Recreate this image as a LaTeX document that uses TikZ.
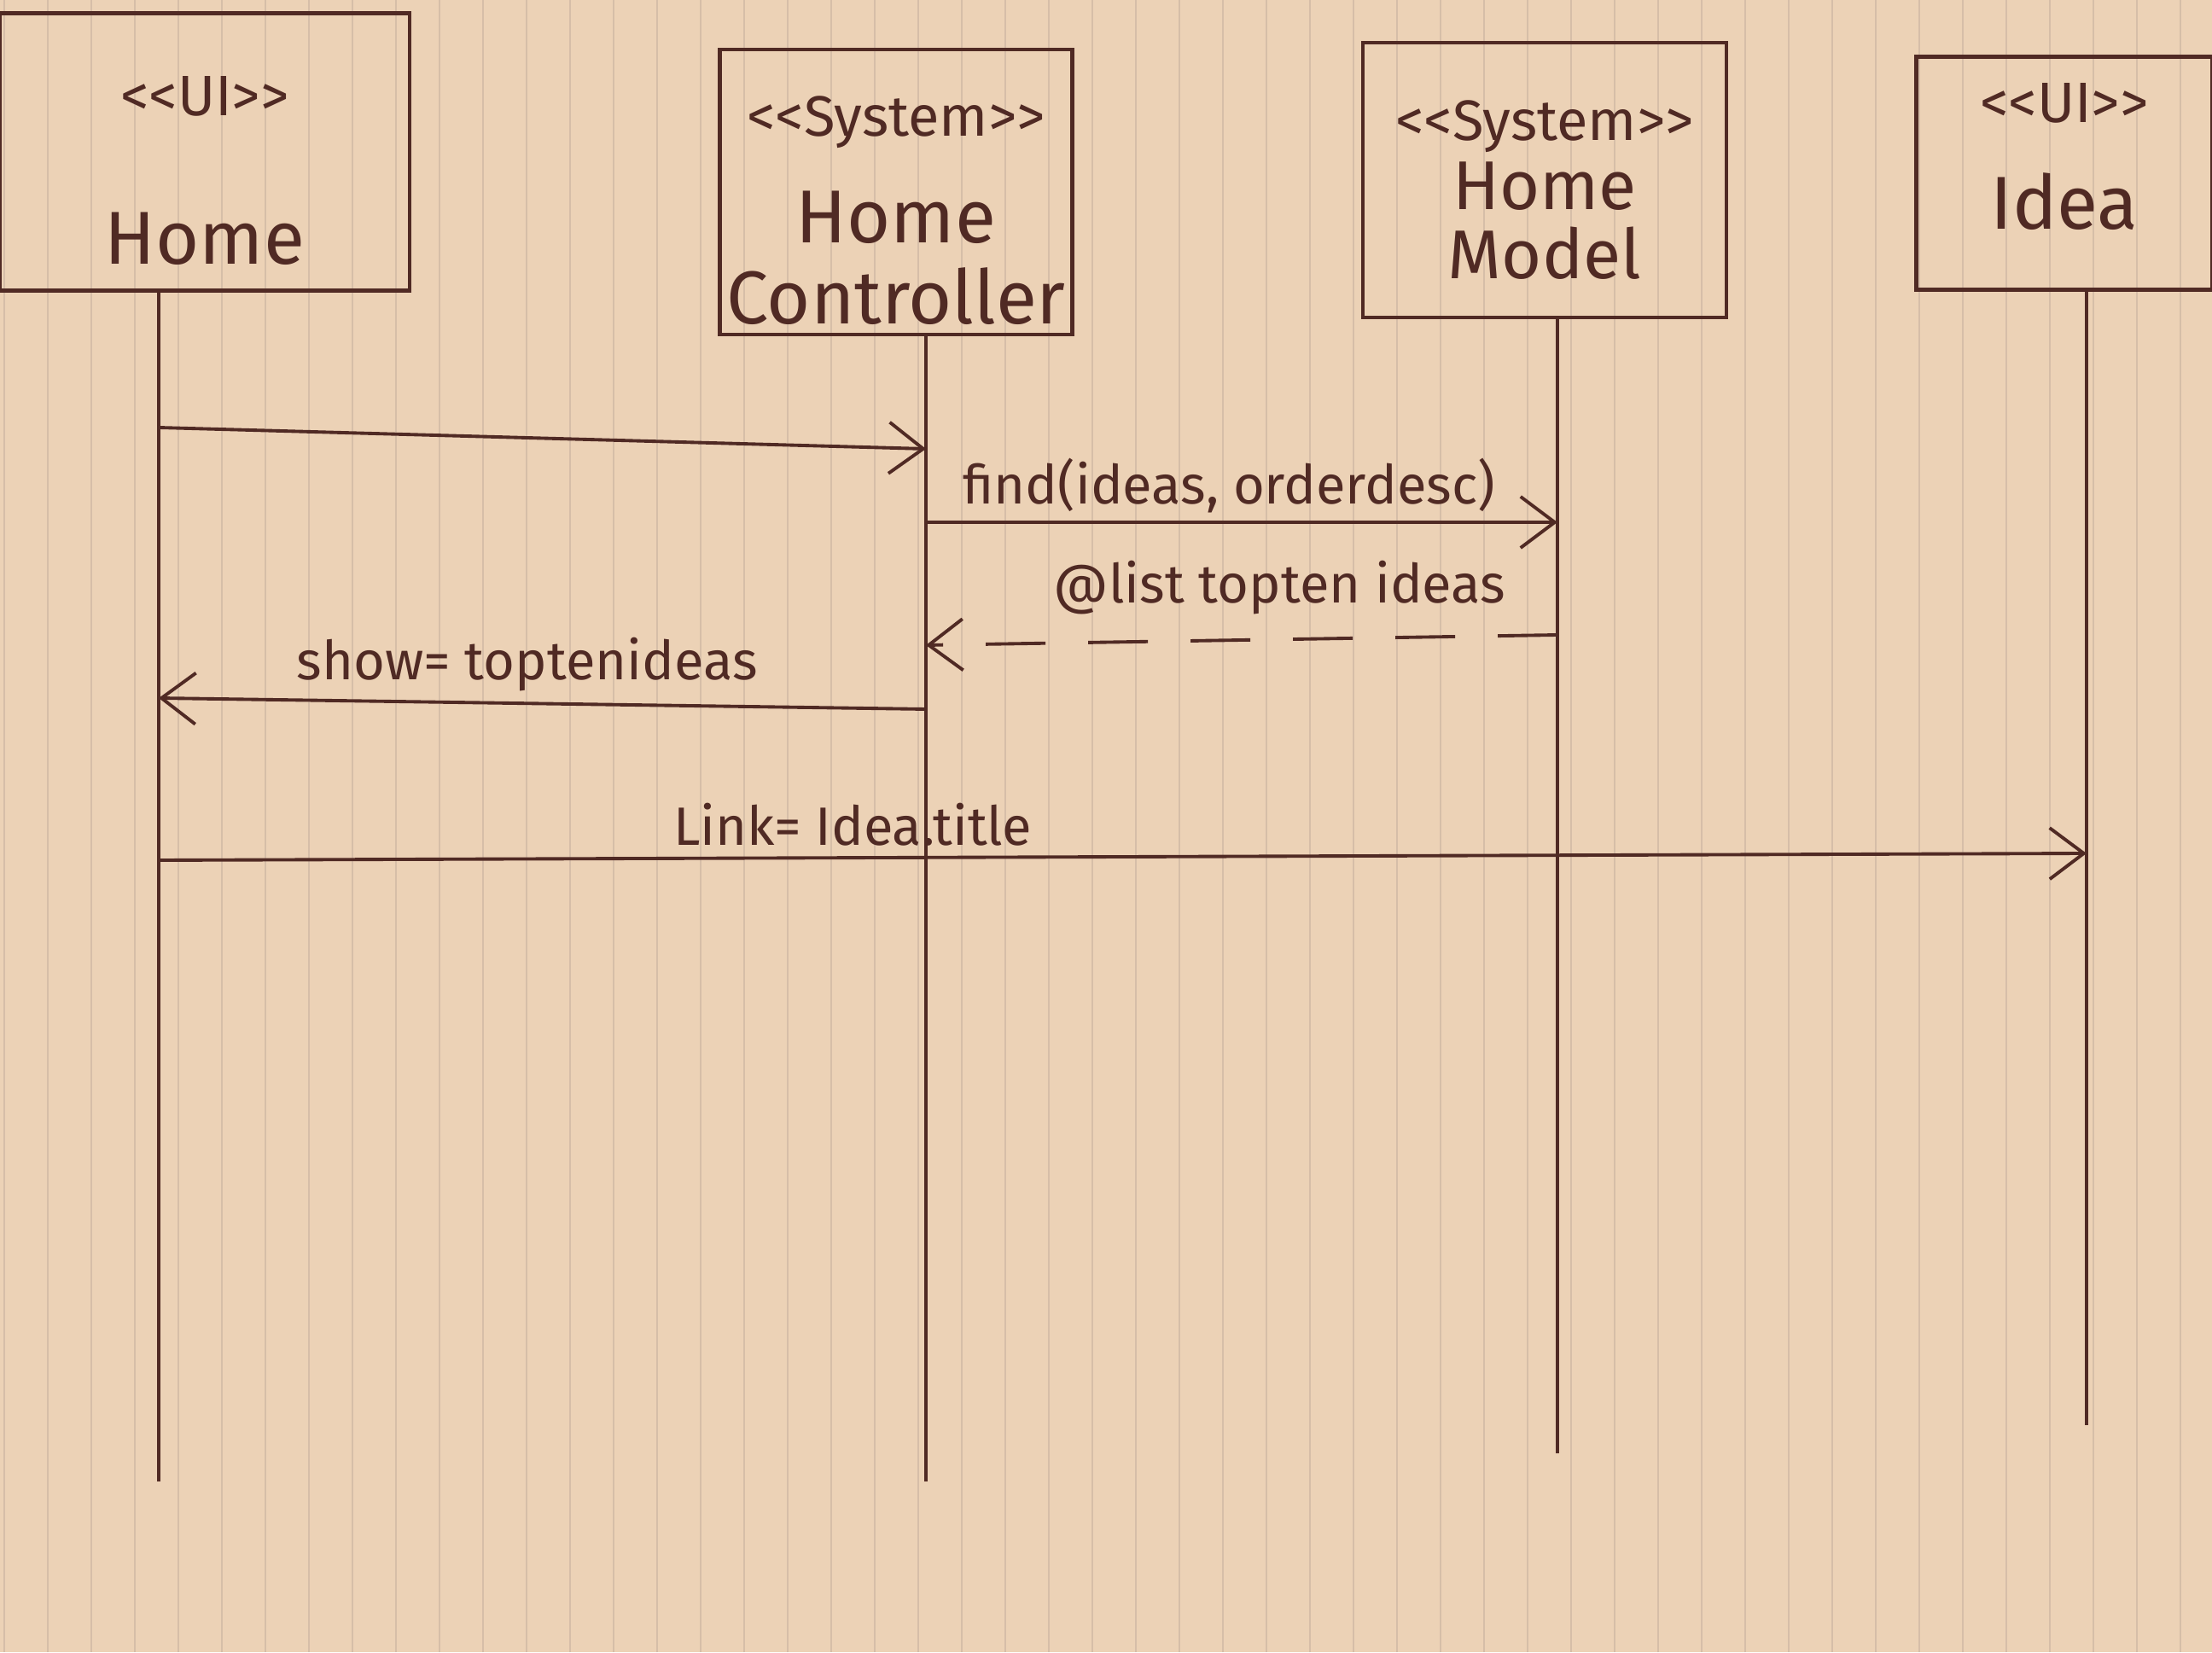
\documentclass[tikz,border=0pt]{standalone}
\usepackage{fontspec}
\setmainfont{Fira Sans}
\usetikzlibrary{positioning,arrows.meta,calc}
\definecolor{papier}{RGB}{236,210,182}
\definecolor{regle}{RGB}{214,190,168}
\definecolor{encre}{RGB}{80,42,36}
\newcommand{\stereo}[2][0pt]{\rule{0pt}{#1}{\fontsize{19}{21}\selectfont<\kern0pt<#2>\kern0pt>}}

\begin{document}
\begin{tikzpicture}[
  acteur/.style={
    draw=encre, line width=1.2pt, text=encre,
    minimum width=4.2cm, minimum height=3.25cm,
    align=center, inner sep=4pt, font=\fontsize{25}{27}\selectfont
  },
  vie/.style={draw=encre, line width=1.1pt},
  msg/.style={draw=encre, line width=1.1pt, -{Straight Barb[length=4mm,width=6mm]}},
  retour/.style={msg, dashed, dash pattern=on 7mm off 5mm},
  lbl/.style={text=encre, font=\fontsize{18}{20}\selectfont, inner sep=3pt}
]

  % --- Fond (papier ligné) ---
  \useasboundingbox (0,0) rectangle (25.92,19.36);
  \fill[papier] (0,0) rectangle (25.92,19.36);
  \foreach \i in {0,...,50}
    \draw[regle, line width=0.35pt] (0.05+0.51*\i,0) -- (0.05+0.51*\i,19.36);

  % --- Acteurs ---
  \node[acteur, minimum width=4.8cm] (home) at (2.4,17.58)
    {\stereo[0.9cm]{UI}\\[8mm]Home};
  \node[acteur, minimum width=4.13cm, minimum height=3.34cm, inner sep=0pt] (ctrl) at (10.5,17.11)
    {\stereo[0.9cm]{System}\\[3mm]Home\\Controller};
  \node[acteur, minimum width=4.26cm, minimum height=3.22cm,
        font=\fontsize{23}{23}\selectfont] (mdl) at (18.1,17.25)
    {\stereo[0.7cm]{System}\\[0mm]Home\\Model};
  \node[acteur, minimum width=3.47cm, minimum height=2.73cm, text depth=0.4cm] (idea) at (24.19,17.33)
    {\stereo{UI}\\[3mm]Idea};

  % --- Lignes de vie ---
  \foreach \n/\x in {home/1.86, ctrl/10.85, mdl/18.25, idea/24.45}
    \coordinate (\n X) at (\x,0);
  \draw[vie] (homeX |- home.south) -- ($(homeX)+(0,2.0)$);
  \draw[vie] (ctrlX |- ctrl.south) -- ($(ctrlX)+(0,2.0)$);
  \draw[vie] (mdlX |- mdl.south)   -- ($(mdlX)+(0,2.33)$);
  \draw[vie] (ideaX |- idea.south) -- ($(ideaX)+(0,2.66)$);

  % --- Messages ---
  \draw[msg] ($(homeX)+(0,14.35)$) -- ($(ctrlX)+(0,14.1)$);

  \draw[msg] ($(ctrlX)+(0,13.24)$) -- ($(mdlX)+(0,13.24)$);
  \node[lbl, anchor=south] (lFind) at ($(ctrlX)!0.48!(mdlX)+(0,13.24)$) {find(ideas, orderdesc)};

  \draw[retour] ($(mdlX)+(0,11.92)$) -- ($(ctrlX)+(0,11.8)$);
  \node[lbl, anchor=south] (lRet) at ($(ctrlX)!0.56!(mdlX)+(0,12.05)$) {@list topten ideas};

  \draw[msg] ($(ctrlX)+(0,11.05)$) -- ($(homeX)+(0,11.18)$);
  \node[lbl, anchor=south] (lShow) at ($(homeX)!0.48!(ctrlX)+(0,11.15)$) {show= toptenideas};

  \draw[msg] ($(homeX)+(0,9.28)$) -- ($(ideaX)+(0,9.36)$);
  \node[lbl, anchor=south] (lLink) at ($(homeX)!0.36!(ideaX)+(0,9.33)$) {Link= Idea.title};

\end{tikzpicture}
\end{document}
